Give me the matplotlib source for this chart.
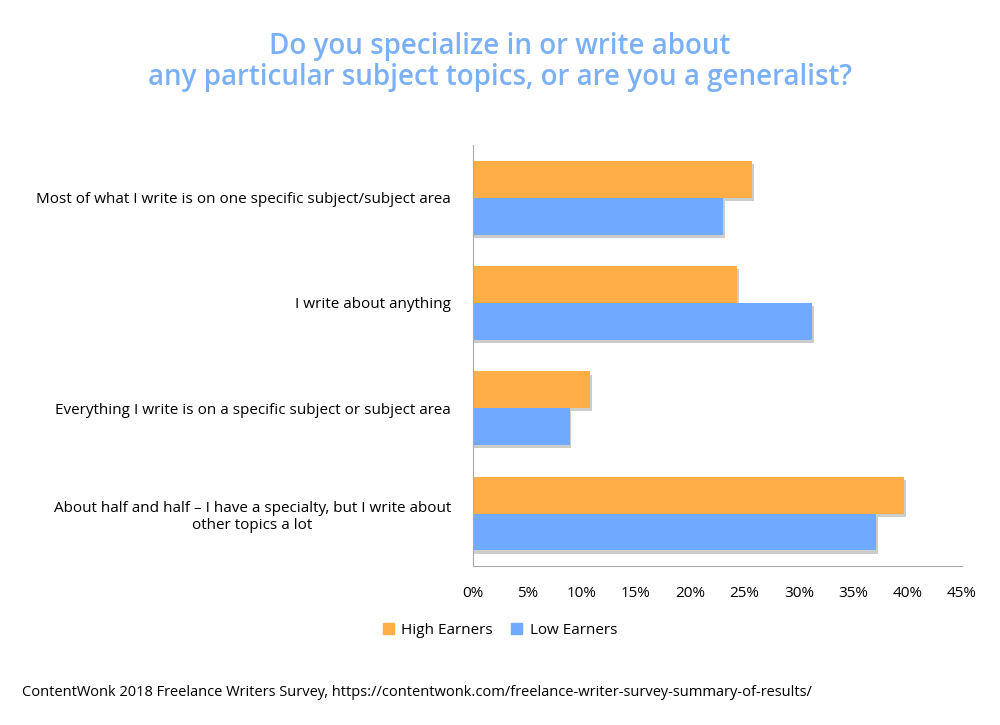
import matplotlib
matplotlib.use("Agg")
import matplotlib.pyplot as plt
import numpy as np

categories = ["Most of what I write is on one specific subject/subject area",
              "I write about anything",
              "Everything I write is on a specific subject or subject area",
              "About half and half – I have a specialty, but I write about\nother topics a lot"]
high = [25.7, 24.3, 10.8, 39.7]
low = [23.0, 31.2, 8.9, 37.1]
ticks = [0, 5, 10, 15, 20, 25, 30, 35, 40, 45]

plt.rcParams["font.family"] = "Open Sans"
fig = plt.figure(figsize=(10, 7.25), dpi=100)
ax = fig.add_axes([0.473, 0.219, 0.489, 0.581])
y = np.arange(len(categories))
h = 0.35
for off, vals, col in [(-h/2, high, "#FFAD47"), (h/2, low, "#6FAAFF")]:
    ax.barh(y + off + 0.03, [v + 0.15 for v in vals], h, color="#cccccc", zorder=1)
    ax.barh(y + off, vals, h, color=col, zorder=2)
ax.set_ylim(3.5, -0.5)
ax.set_xlim(0, 45)
ax.set_xticks(ticks)
ax.set_xticklabels([f"{t}%" for t in ticks], fontsize=11)
ax.set_yticks(y)
ax.set_yticklabels(categories, fontsize=11, ha="right", multialignment="center")
ax.tick_params(length=0, pad=14)
ax.tick_params(axis="y", pad=16)
for s in ["top", "right"]:
    ax.spines[s].set_visible(False)
for s in ["left", "bottom"]:
    ax.spines[s].set_color("#aaaaaa")
fig.text(0.5, 0.915, "Do you specialize in or write about\nany particular subject topics, or are you a generalist?",
         ha="center", va="center", fontsize=20, color="#7BB0F5", fontweight="semibold", linespacing=1.1)
from matplotlib.patches import Patch
fig.legend(handles=[Patch(color="#FFAD47", label="High Earners"), Patch(color="#6FAAFF", label="Low Earners")],
           loc="center", bbox_to_anchor=(0.5, 0.131), ncol=2, frameon=False, fontsize=11,
           handlelength=0.7, handleheight=0.7, columnspacing=1.2, handletextpad=0.5)
fig.text(0.022, 0.045, "ContentWonk 2018 Freelance Writers Survey, https://contentwonk.com/freelance-writer-survey-summary-of-results/",
         fontsize=10.5, va="center")
fig.savefig("out.png", dpi=100)
